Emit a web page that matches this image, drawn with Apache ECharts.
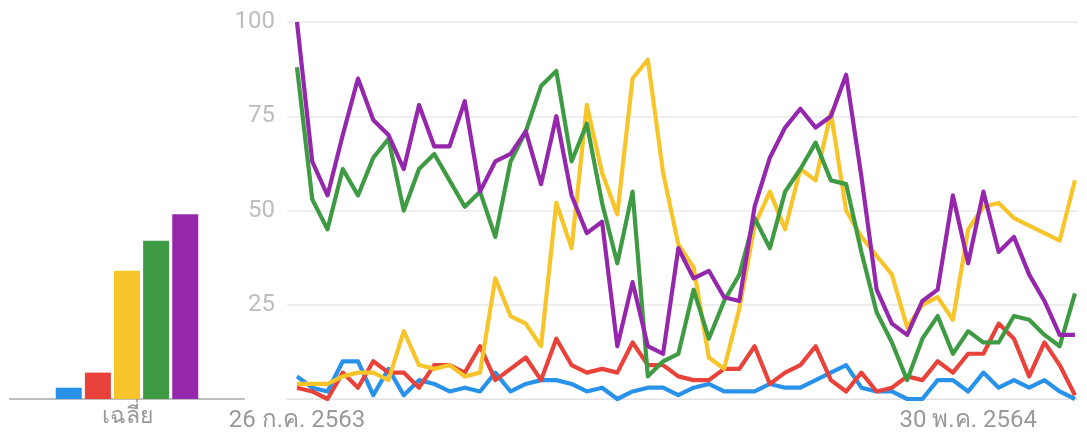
<!DOCTYPE html>
<html>
<head>
<meta charset="utf-8">
<script src="https://cdn.jsdelivr.net/npm/echarts@6/dist/echarts.min.js"></script>
<style>
html,body{margin:0;padding:0;background:#fff;}
#c{width:1087px;height:437px;}
</style>
</head>
<body>
<div id="c"></div>
<script>
// ---- data ----
const seriesNames = ['S1', 'S2', 'S3', 'S4', 'S5'];
const seriesColors = ['#2891ea', '#e8423a', '#f7c52a', '#3f9b43', '#9527ad'];
const averages = [3, 7, 34, 42, 49];
const avgLabel = 'เฉลี่ย';
const xTickIndex = [0, 44];
const xTickLabels = ['26 ก.ค. 2563', '30 พ.ค. 2564'];
const yTicks = [25, 50, 75, 100];

const blue = [6,3,2,10,10,1,8,1,5,4,2,3,2,7,2,4,5,5,4,2,3,0,2,3,3,1,3,4,2,2,2,4,3,3,5,7,9,3,2,2,0,0,5,5,2,7,3,5,3,5,2,0];
const red = [3,2,0,7,3,10,7,7,3,9,9,7,14,5,8,11,5,16,9,7,8,7,15,9,9,6,5,5,8,8,14,4,7,9,14,5,2,7,2,3,6,5,10,7,12,12,20,16,6,15,9,1];
const yellow = [4,4,4,6,7,7,5,18,9,8,9,6,7,32,22,20,14,52,40,78,60,49,85,90,60,41,35,11,8,24,46,55,45,61,58,76,50,43,38,33,19,25,27,21,45,51,52,48,46,44,42,58];
const green = [88,53,45,61,54,64,69,50,61,65,58,51,55,43,63,71,83,87,63,73,52,36,55,6,10,12,29,16,26,33,48,40,55,61,68,58,57,39,23,15,5,16,22,12,18,15,15,22,21,17,14,28];
const purple = [100,63,54,70,85,74,70,61,78,67,67,79,55,63,65,71,57,75,54,44,47,14,31,14,12,40,32,34,27,26,51,64,72,77,72,75,86,59,29,20,17,26,29,54,36,55,39,43,33,26,17,17];
const lineData = [blue, red, yellow, green, purple];

const FONT = 'Roboto, "Noto Sans", "DejaVu Sans", sans-serif';

const chart = echarts.init(document.getElementById('c'), null, {renderer: 'canvas'});

const series = [];
averages.forEach((v, k) => {
  series.push({
    type: 'bar', xAxisIndex: 0, yAxisIndex: 0, name: seriesNames[k],
    data: [v], barWidth: 26, barGap: '12%',
    itemStyle: {color: seriesColors[k]}, silent: true
  });
});
lineData.forEach((arr, k) => {
  series.push({
    type: 'line', xAxisIndex: 1, yAxisIndex: 1, name: seriesNames[k],
    data: arr.map((v, i) => [i, v]),
    showSymbol: false, symbol: 'none',
    lineStyle: {color: seriesColors[k], width: 4.2, join: 'round'},
    itemStyle: {color: seriesColors[k]}, silent: true, animation: false
  });
});

chart.setOption({
  animation: false,
  backgroundColor: '#ffffff',
  grid: [
    {left: 10, width: 234, top: 22, height: 377},
    {left: 287, right: 9, top: 22, height: 377}
  ],
  xAxis: [
    {
      type: 'category', gridIndex: 0, data: [avgLabel],
      axisLine: {lineStyle: {color: '#bdbdbd', width: 2}},
      axisTick: {show: false},
      axisLabel: {color: '#999999', fontSize: 23, fontFamily: FONT, margin: 7}
    },
    {
      type: 'value', gridIndex: 1, min: -0.655, max: 51.2,
      axisLine: {lineStyle: {color: '#e3e3e3', width: 1}},
      axisTick: {show: false},
      splitLine: {show: false},
      axisLabel: {
        color: '#999999', fontSize: 24, fontFamily: FONT, margin: 10,
        customValues: xTickIndex,
        formatter: (v) => { const j = xTickIndex.indexOf(Math.round(v)); return j >= 0 ? xTickLabels[j] : ''; }
      }
    }
  ],
  yAxis: [
    {
      type: 'value', gridIndex: 0, min: 0, max: 100, show: false
    },
    {
      type: 'value', gridIndex: 1, min: 0, max: 100, interval: 25,
      axisLine: {show: false}, axisTick: {show: false},
      splitLine: {lineStyle: {color: '#e8e8e8', width: 1.5}},
      axisLabel: {
        color: '#bdbdbd', fontSize: 24, fontFamily: FONT, margin: 12,
        formatter: (v) => yTicks.indexOf(v) >= 0 ? String(v) : ''
      }
    }
  ],
  series: series
});
</script>
</body>
</html>
